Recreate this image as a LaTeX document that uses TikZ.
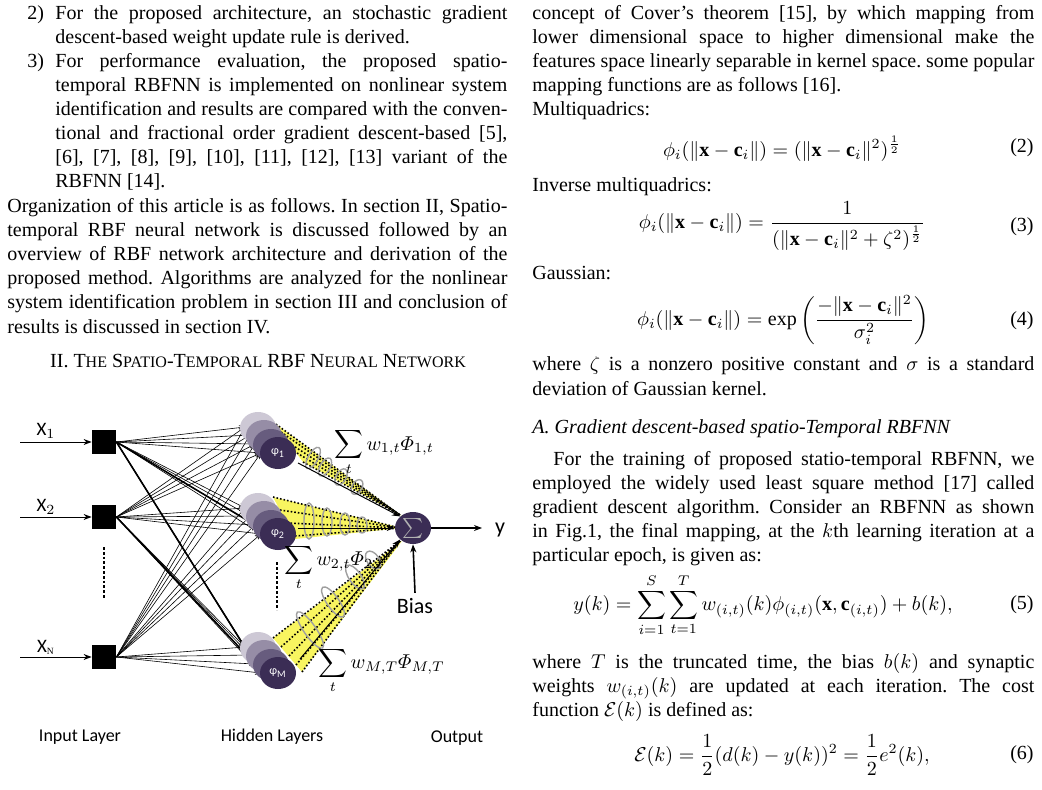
\documentclass[tikz,border=0pt]{standalone}
\usepackage{amsmath,amssymb}
\usepackage{fontspec}
\setmainfont{Liberation Serif}
\newfontfamily\figfont{Carlito}
\usetikzlibrary{shapes.geometric,arrows.meta}
\newcommand\jl[4]{\node[anchor=base west,inner sep=0] at (#1,#2+6) {\hbox to #3{#4}};}
\newcommand\lft[3]{\node[anchor=base west,inner sep=0] at (#1,#2+6) {#3};}
\newcommand\deq[3]{\node[inner sep=0] at (#1,#2) {$\displaystyle #3$};}
\newcommand\eqnum[2]{\node[anchor=base east,inner sep=0] at (1034,#1+6) {(#2)};}
\definecolor{hd}{HTML}{3B2D55}
\definecolor{hc}{HTML}{675C7E}
\definecolor{hb}{HTML}{968DA6}
\definecolor{ha}{HTML}{CDC8D5}
\definecolor{cone}{HTML}{F8F560}
\frenchspacing
\begin{document}
\frenchspacing
\begin{tikzpicture}[x=0.5pt,y=-0.5pt,
 hid/.style={ellipse,minimum width=18pt,minimum height=16pt,inner sep=0,text=white},
 sq/.style={fill=black,minimum size=12pt,inner sep=0},
 con/.style={-{Stealth[length=3pt,width=2.5pt]},line width=0.3pt},
 arr/.style={-{Stealth[length=4pt,width=3pt]},line width=0.6pt},
 ring/.style={draw=gray!75,line width=0.7pt},
 dl/.style={densely dotted,line width=0.8pt},
 lab/.style={font=\figfont\fontsize{9}{10}\selectfont,inner sep=0}]
\useasboundingbox (0,0) rectangle (1042,790);
% ---------- left column text
\lft{27}{14}{2)}
\jl{55}{14}{226pt}{For the proposed architecture, an stochastic gradient}
\lft{55}{38}{descent-based weight update rule is derived.}
\lft{27}{62}{3)}
\jl{55}{62}{226pt}{For performance evaluation, the proposed spatio-}
\jl{55}{86}{226pt}{temporal RBFNN is implemented on nonlinear system}
\jl{55}{110}{226pt}{identification and results are compared with the conven-}
\jl{55}{134}{226pt}{tional and fractional order gradient descent-based [5],}
\jl{55}{158}{226pt}{[6], [7], [8], [9], [10], [11], [12], [13] variant of the}
\lft{55}{182}{RBFNN [14].}
\jl{7}{207}{250pt}{Organization of this article is as follows. In section II, Spatio-}
\jl{7}{231}{250pt}{temporal RBF neural network is discussed followed by an}
\jl{7}{255}{250pt}{overview of RBF network architecture and derivation of the}
\jl{7}{279}{250pt}{proposed method. Algorithms are analyzed for the nonlinear}
\jl{7}{303}{250pt}{system identification problem in section III and conclusion of}
\lft{7}{328}{results is discussed in section IV.}
\node[anchor=base,inner sep=0] (sec) at (258,368) {II.\ T{\footnotesize HE} S{\footnotesize PATIO}-T{\footnotesize EMPORAL} RBF N{\footnotesize EURAL} N{\footnotesize ETWORK}};
% ---------- right column text
\jl{532}{14}{251pt}{concept of Cover's theorem [15], by which mapping from}
\jl{532}{38}{251pt}{lower dimensional space to higher dimensional make the}
\jl{532}{62}{251pt}{features space linearly separable in kernel space. some popular}
\lft{532}{86}{mapping functions are as follows [16].}
\lft{532}{110}{Multiquadrics:}
\deq{782}{149}{\phi_i(\|\mathbf{x}-\mathbf{c}_i\|)=(\|\mathbf{x}-\mathbf{c}_i\|^2)^{\frac{1}{2}}}
\eqnum{147}{2}
\lft{532}{186}{Inverse multiquadrics:}
\deq{782}{226}{\phi_i(\|\mathbf{x}-\mathbf{c}_i\|)=\frac{1}{(\|\mathbf{x}-\mathbf{c}_i\|^2+\zeta^2)^{\frac{1}{2}}}}
\eqnum{226}{3}
\lft{532}{274}{Gaussian:}
\deq{783}{320}{\phi_i(\|\mathbf{x}-\mathbf{c}_i\|)=\exp\left(\frac{-\|\mathbf{x}-\mathbf{c}_i\|^2}{\sigma_i^2}\right)}
\eqnum{320}{4}
\jl{532}{365}{251pt}{where $\zeta$ is a nonzero positive constant and $\sigma$ is a standard}
\lft{532}{389}{deviation of Gaussian kernel.}
\lft{532}{427}{\textit{A. Gradient descent-based spatio-Temporal RBFNN}}
\jl{553}{459}{240.5pt}{For the training of proposed statio-temporal RBFNN, we}
\jl{532}{483}{251pt}{employed the widely used least square method [17] called}
\jl{532}{507}{251pt}{gradient descent algorithm. Consider an RBFNN as shown}
\jl{532}{531}{251pt}{in Fig.1, the final mapping, at the $k$th learning iteration at a}
\lft{532}{555}{particular epoch, is given as:}
\deq{763}{605}{y(k)=\sum_{i=1}^{S}\sum_{t=1}^{T}w_{(i,t)}(k)\phi_{(i,t)}(\mathbf{x},\mathbf{c}_{(i,t)})+b(k),}
\eqnum{603}{5}
\jl{532}{662}{251pt}{where $T$ is the truncated time, the bias $b(k)$ and synaptic}
\jl{532}{686}{251pt}{weights $w_{(i,t)}(k)$ are updated at each iteration. The cost}
\lft{532}{710}{function $\mathcal{E}(k)$ is defined as:}
\deq{782}{755}{\mathcal{E}(k)=\frac{1}{2}(d(k)-y(k))^2=\frac{1}{2}e^2(k),}
\eqnum{753}{6}
% ---------- figure
% cones
\fill[cone] (273,422) -- (303,462) -- (402,516) -- cycle;
\fill[cone] (273,497) -- (295,539) -- (402,528) -- cycle;
\fill[cone] (273,638) -- (302,672) -- (402,541) -- cycle;
\foreach \a/\b in {273/422,281/432,289/443,297/453,303/462}{\draw[dl] (\a,\b) -- (400,515);}
\foreach \a/\b in {273/497,280/510,287/523,295/536}{\draw[dl] (\a,\b) -- (400,528);}
\foreach \a/\b in {273/638,281/647,289/656,296/665,302/672}{\draw[dl] (\a,\b) -- (400,541);}
\foreach \p/\r in {{(313,458)}/6,{(325,467)}/5,{(341,477)}/4.5,{(357,487)}/4}{\draw[ring,rotate around={-30:\p}] \p ellipse [x radius=2.5pt,y radius=\r pt];}
\foreach \p/\r in {{(309,521)}/9,{(327,522)}/7,{(345,524)}/5.5,{(362,525)}/4}{\draw[ring] \p ellipse [x radius=2.5pt,y radius=\r pt];}
\foreach \p/\r in {{(310,630)}/11,{(333,602)}/9,{(355,577)}/7,{(373,560)}/5}{\draw[ring,rotate around={35:\p}] \p ellipse [x radius=3pt,y radius=\r pt];}
% input squares
\node[sq] (i1) at (104,442) {};
\node[sq] (i2) at (104,517) {};
\node[sq] (iN) at (104,657) {};
\coordinate (s1) at (20,442); \coordinate (s2) at (20,517); \coordinate (sN) at (20,657);
\draw[arr,line width=0.5pt] (s1) -- (i1.west);
\draw[arr,line width=0.5pt] (s2) -- (i2.west);
\draw[arr,line width=0.5pt] (sN) -- (iN.west);
\node[lab,font=\figfont\fontsize{9.5}{10}\selectfont] at (46,431) {X$_1$};
\node[lab,font=\figfont\fontsize{9.5}{10}\selectfont] at (46,507) {X$_2$};
\node[lab,font=\figfont\fontsize{9.5}{10}\selectfont] at (46,647) {X$_{\scriptscriptstyle\mathrm{N}}$};
\draw[densely dotted,line width=1.4pt] (104,547) -- (104,598);
\draw[densely dotted,line width=1.4pt] (277,562) -- (277,610);
% target coordinates
\foreach \h/\y in {1/453,2/534,M/673}{
  \coordinate (t\h a) at (245,\y-26);
  \coordinate (t\h b) at (250,\y-18);
  \coordinate (t\h c) at (255,\y-9);
  \coordinate (t\h d) at (261,\y);
}
\foreach \i in {i1,i2,iN}{
 \foreach \h in {1,2,M}{
  \foreach \k in {a,b,c,d}{\draw[con] (\i.east) -- (t\h\k);}
 }}
\draw[con,line width=0.8pt] (i1.east) -- (tMd);
\draw[con,line width=0.8pt] (i1.east) -- (t2c);
\draw[con,line width=0.8pt] (i2.east) -- (tMc);
% hidden stacks
\foreach \h/\y/\t in {1/453/{φ\textsubscript{1}},2/534/{φ\textsubscript{2}},M/673/{φ\textsubscript{M}}}{
  \node[hid,fill=ha] (h\h a) at (258,\y-25) {};
  \node[hid,fill=hb] (h\h b) at (264,\y-17) {};
  \node[hid,fill=hc] (h\h c) at (271,\y-8) {};
  \node[hid,fill=hd,font=\figfont\fontsize{6}{6}\selectfont] (h\h) at (278,\y) {\t};
}
% sum
\node[hid,fill=hd] (sum) at (413,528) {\textcolor{gray!60}{$\sum$}};
\node[lab,font=\figfont\fontsize{11}{12}\selectfont] (y) at (500,530) {y};
\draw[arr] (sum.east) -- (482,528);
\node[lab,font=\figfont\fontsize{11}{12}\selectfont] (bias) at (415,606) {Bias};
\draw[arr,line width=0.8pt] (bias.north) ++(0,-5) -- (sum.south);
\draw[arr,line width=0.5pt] (h1) ++(20,10) -- (sum.north west);
\draw[arr,line width=0.5pt] (h2) ++(20,-6) -- (sum.west);
\draw[arr,line width=0.5pt] (hM) ++(22,-14) -- (sum.south west);
% weight labels
\node[inner sep=0,anchor=west] at (334,452) {$\displaystyle\sum_t w_{1,t}\varPhi_{1,t}$};
\node[inner sep=0,anchor=west] at (284,567) {$\displaystyle\sum_t w_{2,t}\varPhi_{2,t}$};
\node[inner sep=0,anchor=west] at (318,670) {$\displaystyle\sum_t w_{M,T}\varPhi_{M,T}$};
% layer labels
\node[lab] at (80,737) {Input Layer};
\node[lab] at (272,737) {Hidden Layers};
\node[lab] at (457,738) {Output};
\end{tikzpicture}
\end{document}
